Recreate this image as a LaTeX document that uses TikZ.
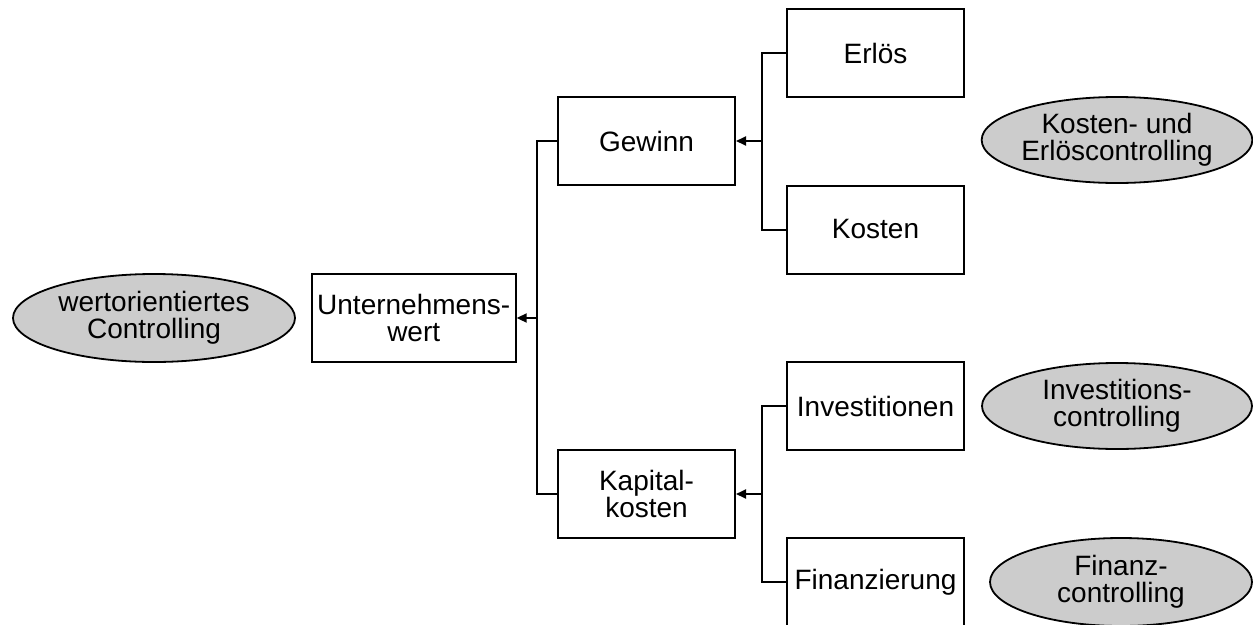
\documentclass[tikz,border=0pt]{standalone}
\usepackage{fontspec}
\setmainfont{Liberation Sans}
\usetikzlibrary{arrows.meta,shapes.geometric}
\definecolor{ellgray}{RGB}{204,204,204}
\begin{document}
\begin{tikzpicture}[x=1pt,y=-1pt,
  lbl/.style={font=\fontsize{28}{27}\selectfont, align=center},
  box/.style={lbl, draw, line width=2pt, minimum width=177pt, minimum height=88pt, inner sep=0pt},
  ell/.style={lbl, draw, ellipse, fill=ellgray, line width=1.8pt, inner sep=0pt},
  conn/.style={line width=2pt},
  arr/.style={line width=2pt, -{Triangle[length=10pt,width=9pt]}}]
\useasboundingbox (0,0) rectangle (1253,624);
% ellipses
\node[ell, minimum width=282pt, minimum height=88pt] (e1) at (154,318) {wertorientiertes\\Controlling};
\node[ell, minimum width=270pt, minimum height=86pt] (e2) at (1117,140) {Kosten- und\\Erlöscontrolling};
\node[ell, minimum width=270pt, minimum height=86pt] (e3) at (1117,406) {Investitions-\\controlling};
\node[ell, minimum width=262pt, minimum height=88pt] (e4) at (1121,582) {Finanz-\\controlling};
% boxes
\node[box, minimum width=204pt] (U) at (413.7,318) {Unternehmens-\\wert};
\node[box] (G) at (646.5,141) {Gewinn};
\node[box] (K) at (646.5,494) {Kapital-\\kosten};
\node[box] (Er) at (875.5,53) {Erlös};
\node[box] (Ko) at (875.5,229.5) {Kosten};
\node[box] (In) at (875.5,406) {Investitionen};
\node[box] (Fi) at (875.5,582) {Finanzierung};
% junctions
\coordinate (j1) at (537,318);
\coordinate (j2) at (762,141);
\coordinate (j3) at (762,494);
% connectors
\draw[conn] (G.west) -| (j1) |- (K.west);
\draw[arr] (j1) -- (U.east);
\draw[conn] (Er.west) -| (j2) |- (Ko.west);
\draw[arr] (j2) -- (G.east);
\draw[conn] (In.west) -| (j3) |- (Fi.west);
\draw[arr] (j3) -- (K.east);
\end{tikzpicture}
\end{document}
